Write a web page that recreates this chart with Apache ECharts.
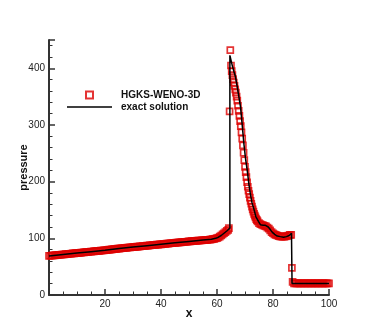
<!DOCTYPE html>
<html>
<head>
<meta charset="utf-8">
<script src="https://cdn.jsdelivr.net/npm/echarts@6/dist/echarts.min.js"></script>
<style>
  html, body { margin: 0; padding: 0; background: #fff; }
  #chart { width: 374px; height: 332px; }
</style>
</head>
<body>
<div id="chart"></div>
<script>
// tick labels
var xTicks = [20, 40, 60, 80, 100];
var yTicks = [0, 100, 200, 300, 400];

// exact solution
var exactX = [0, 5, 10, 15, 20, 25, 30, 35, 40, 45, 50, 55, 58, 59.5, 60.5, 61.5, 62.5, 63.5, 64.6,
  64.6, 64.9, 65.5, 66, 66.6, 67.2, 67.8, 68.4, 69, 69.6, 70.2, 70.8, 71.4, 71.9, 72.5, 73.1, 73.9, 74.9,
  75.5, 76.5, 77.3, 78.3, 79.1, 79.7, 80.6, 81.5, 82.6, 83.8, 84.8, 85.8, 86.6, 86.8, 100];
var exactP = [69, 71.5, 74, 76.5, 79, 82, 84.5, 87, 89.5, 92, 94.5, 97, 98.5, 100, 102, 105, 109, 113, 118,
  423, 420, 404, 395, 385, 368, 350, 332, 300, 267, 240, 220, 195, 179, 163, 153, 138, 129,
  124, 123, 123, 120, 115, 111, 107, 104, 103, 102, 103, 105, 109, 20.5, 20.5];

// HGKS-WENO-3D points
var numX = [
  0, 0.5, 1, 1.5, 2, 2.5, 3, 3.5, 4, 4.5, 5, 5.5, 6, 6.5, 7, 7.5, 8, 8.5, 9, 9.5,
  10, 10.5, 11, 11.5, 12, 12.5, 13, 13.5, 14, 14.5, 15, 15.5, 16, 16.5, 17, 17.5, 18, 18.5, 19, 19.5,
  20, 20.5, 21, 21.5, 22, 22.5, 23, 23.5, 24, 24.5, 25, 25.5, 26, 26.5, 27, 27.5, 28, 28.5, 29, 29.5,
  30, 30.5, 31, 31.5, 32, 32.5, 33, 33.5, 34, 34.5, 35, 35.5, 36, 36.5, 37, 37.5, 38, 38.5, 39, 39.5,
  40, 40.5, 41, 41.5, 42, 42.5, 43, 43.5, 44, 44.5, 45, 45.5, 46, 46.5, 47, 47.5, 48, 48.5, 49, 49.5,
  50, 50.5, 51, 51.5, 52, 52.5, 53, 53.5, 54, 54.5, 55, 55.5, 56, 56.5, 57, 57.5, 58, 58.5, 59, 59.5,
  60, 60.5, 61, 61.5, 62, 62.5, 63, 63.5, 64, 64.25, 64.5, 64.75, 65, 65.25, 65.5, 65.75,
  66, 66.25, 66.5, 66.75, 67, 67.25, 67.5, 67.75, 68, 68.25, 68.5, 68.75,
  69, 69.25, 69.5, 69.75, 70, 70.25, 70.5, 70.75, 71, 71.25, 71.5, 71.75,
  72, 72.25, 72.5, 72.75, 73, 73.25, 73.5, 73.75, 74, 74.25, 74.5, 75, 75.5,
  76, 76.5, 77, 77.5, 78, 78.5, 79, 79.5, 80, 80.5, 81, 81.5, 82, 82.5, 83, 83.5,
  84, 84.5, 85, 85.5, 86, 86.5, 86.75, 87,
  87.5, 88, 88.5, 89, 89.5, 90, 90.5, 91, 91.5, 92, 92.5, 93, 93.5, 94, 94.5, 95,
  95.5, 96, 96.5, 97, 97.5, 98, 98.5, 99, 99.5, 100];
var numP = [
  69, 69.3, 69.5, 69.8, 70, 70.3, 70.5, 70.8, 71, 71.3, 71.5, 71.8, 72, 72.3, 72.5, 72.8, 73, 73.3, 73.5, 73.8,
  74, 74.3, 74.5, 74.8, 75, 75.3, 75.5, 75.8, 76, 76.3, 76.5, 76.8, 77, 77.3, 77.5, 77.8, 78, 78.3, 78.5, 78.8,
  79, 79.3, 79.6, 79.9, 80.2, 80.5, 80.8, 81.1, 81.4, 81.7, 82, 82.3, 82.5, 82.8, 83, 83.3, 83.5, 83.8, 84, 84.3,
  84.5, 84.8, 85, 85.3, 85.5, 85.8, 86, 86.3, 86.5, 86.8, 87, 87.3, 87.5, 87.8, 88, 88.3, 88.5, 88.8, 89, 89.3,
  89.5, 89.8, 90, 90.3, 90.5, 90.8, 91, 91.3, 91.5, 91.8, 92, 92.3, 92.5, 92.8, 93, 93.3, 93.5, 93.8, 94, 94.3,
  94.5, 94.8, 95, 95.2, 95.4, 95.6, 95.8, 96, 96.2, 96.4, 96.6, 96.8, 97, 97.2, 97.5, 97.8, 98, 98.5, 99, 99.7,
  100.5, 101.5, 103, 105, 107, 109, 111, 113, 115, 118, 324, 432, 405, 395, 388, 381,
  375, 369, 363, 357, 350, 343, 334, 325, 316, 307, 298, 287,
  276, 264, 251, 238, 226, 217, 208, 199, 191, 184, 178, 172,
  166, 161, 156, 151, 147, 143, 140, 137, 134, 132, 130, 127, 125,
  124, 123, 122, 121, 119, 117, 114, 111, 109, 107, 106, 105, 104, 103.5, 103, 103,
  103, 103.5, 104, 105, 106, 106, 48, 23,
  20.5, 20.5, 20.5, 20.5, 20.5, 20.5, 20.5, 20.5, 20.5, 20.5, 20.5, 20.5, 20.5, 20.5, 20.5, 20.5,
  20.5, 20.5, 20.5, 20.5, 20.5, 20.5, 20.5, 20.5, 20.5, 20.5];

var font = 'Liberation Sans, Arial, Helvetica, sans-serif';
var red = '#dd0000';
var axisColor = '#333';

var chart = echarts.init(document.getElementById('chart'));
var option = {
  animation: false,
  grid: { left: 49, right: 45, top: 40, bottom: 37 },
  legend: {
    orient: 'vertical',
    left: 67,
    top: 89,
    padding: 0,
    itemWidth: 45,
    itemHeight: 7,
    itemGap: 0,
    symbolKeepAspect: true,
    textStyle: { fontFamily: font, fontSize: 10, fontWeight: 'bold', color: '#111', lineHeight: 12, padding: [0, 0, 0, 4] },
    data: [
      { name: 'HGKS-WENO-3D', icon: 'path://M0,0 L10,0 L10,10 L0,10 Z' },
      { name: 'exact solution', icon: 'path://M0,0 L45,0 L45,1.6 L0,1.6 Z' }
    ]
  },
  xAxis: {
    type: 'value',
    min: 0,
    max: 100,
    interval: 20,
    name: 'x',
    nameLocation: 'middle',
    nameGap: 13,
    nameMoveOverlap: false,
    nameTextStyle: { fontFamily: font, fontSize: 12, fontWeight: 'bold', color: '#111' },
    axisLine: { lineStyle: { color: axisColor, width: 2 } },
    axisTick: { inside: true, length: 6, lineStyle: { color: axisColor, width: 1.5 } },
    minorTick: { show: true, splitNumber: 4, length: 3.5, lineStyle: { color: axisColor, width: 1 } },
    splitLine: { show: false },
    axisLabel: {
      margin: 4, fontFamily: font, fontSize: 10, color: '#222',
      formatter: function (v) { return xTicks.indexOf(v) >= 0 ? String(v) : ''; }
    }
  },
  yAxis: {
    type: 'value',
    min: 0,
    max: 450,
    interval: 100,
    name: 'pressure',
    nameLocation: 'middle',
    nameGap: 20,
    nameMoveOverlap: false,
    nameTextStyle: { fontFamily: font, fontSize: 11, fontWeight: 'bold', color: '#111' },
    axisLine: { lineStyle: { color: axisColor, width: 2 } },
    axisTick: { inside: true, length: 6, lineStyle: { color: axisColor, width: 1.5 } },
    minorTick: { show: true, splitNumber: 5, length: 3.5, lineStyle: { color: axisColor, width: 1 } },
    splitLine: { show: false },
    axisLabel: {
      margin: 4, fontFamily: font, fontSize: 10, color: '#222',
      formatter: function (v) { return yTicks.indexOf(v) >= 0 ? String(v) : ''; }
    }
  },
  series: [
    {
      name: 'HGKS-WENO-3D',
      type: 'scatter',
      symbol: 'rect',
      symbolSize: 6,
      clip: false,
      itemStyle: { color: 'rgba(255,255,255,0)', borderColor: red, borderWidth: 1.7 },
      data: numX.map(function (x, i) { return [x, numP[i]]; })
    },
    {
      name: 'exact solution',
      type: 'line',
      showSymbol: false,
      symbol: 'none',
      z: 3,
      lineStyle: { color: '#000', width: 1.5 },
      itemStyle: { color: '#000' },
      data: exactX.map(function (x, i) { return [x, exactP[i]]; })
    }
  ]
};
chart.setOption(option);
</script>
</body>
</html>
